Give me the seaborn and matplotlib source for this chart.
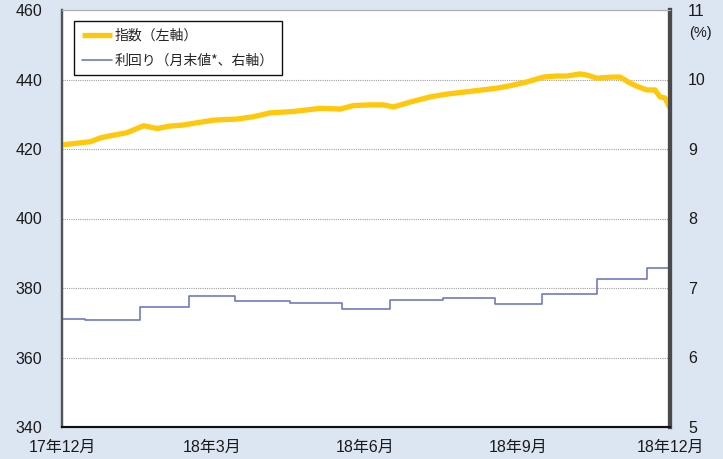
import matplotlib
matplotlib.use("Agg")
import matplotlib.pyplot as plt
import seaborn as sns
import pandas as pd

# ---- data ----
index_dates = ["2017-12-01", "2017-12-18", "2017-12-24", "2017-12-30", "2018-01-09",
               "2018-01-19", "2018-01-27", "2018-02-04", "2018-02-12", "2018-02-18",
               "2018-03-02", "2018-03-10", "2018-03-16", "2018-03-26", "2018-04-05",
               "2018-04-19", "2018-05-05", "2018-05-17", "2018-05-25", "2018-06-04",
               "2018-06-12", "2018-06-18", "2018-06-28", "2018-07-10", "2018-07-20",
               "2018-08-05", "2018-08-19", "2018-08-29", "2018-09-06", "2018-09-16",
               "2018-09-24", "2018-09-30", "2018-10-08", "2018-10-12", "2018-10-18",
               "2018-10-28", "2018-11-01", "2018-11-07", "2018-11-11", "2018-11-17",
               "2018-11-22", "2018-11-25", "2018-11-28", "2018-12-01"]
index_values = [421.2, 422.1, 423.2, 423.8, 424.7,
                426.7, 425.9, 426.6, 426.9, 427.4,
                428.3, 428.5, 428.6, 429.3, 430.4,
                430.8, 431.7, 431.5, 432.5, 432.7,
                432.7, 432.1, 433.5, 435.0, 435.8,
                436.7, 437.5, 438.4, 439.3, 440.7,
                441.0, 441.0, 441.6, 441.3, 440.4,
                440.7, 440.7, 439.0, 438.1, 437.0,
                437.0, 435.0, 434.7, 431.8]

yield_dates = ["2017-12-01", "2017-12-15", "2018-01-17", "2018-02-15", "2018-03-15",
               "2018-04-17", "2018-05-18", "2018-06-16", "2018-07-18", "2018-08-18",
               "2018-09-15", "2018-10-18", "2018-11-17", "2018-12-01"]
yield_values = [6.56, 6.54, 6.72, 6.89, 6.82,
                6.78, 6.70, 6.83, 6.86, 6.77,
                6.92, 7.13, 7.29, 7.29]

x_ticks = ["2017-12-01", "2018-03-01", "2018-06-01", "2018-09-01", "2018-12-01"]
x_tick_labels = ["17年12月", "18年3月", "18年6月", "18年9月", "18年12月"]
left_ticks = [340, 360, 380, 400, 420, 440, 460]
right_ticks = [5, 6, 7, 8, 9, 10, 11]
label_index = "指数（左軸）"
label_yield = "利回り（月末値*、右軸）"
unit_label = "(%)"

# ---- style ----
sns.set_style("white")
plt.rcParams['font.family'] = ['Liberation Sans', 'Noto Sans CJK JP', 'DejaVu Sans']

BG = "#dce6f2"
YELLOW = "#ffc80a"
BLUE = "#7079c6"

fig = plt.figure(figsize=(7.23, 4.59), dpi=100, facecolor=BG)
ax = fig.add_axes([62/723, 1 - 427/459, (670 - 62)/723, (427 - 10)/459])
ax.set_facecolor("white")
ax2 = ax.twinx()

df_i = pd.DataFrame({"date": pd.to_datetime(index_dates), "value": index_values})
df_y = pd.DataFrame({"date": pd.to_datetime(yield_dates), "value": yield_values})

sns.lineplot(data=df_i, x="date", y="value", ax=ax, color=YELLOW, linewidth=3.8,
             label=label_index, legend=False, solid_capstyle="butt", zorder=3)
sns.lineplot(data=df_y, x="date", y="value", ax=ax2, color=BLUE, linewidth=1.2,
             drawstyle="steps-post", label=label_yield, legend=False)

ax.set_xlim(pd.Timestamp(x_ticks[0]), pd.Timestamp(x_ticks[-1]))
ax.set_ylim(left_ticks[0], left_ticks[-1])
ax2.set_ylim(right_ticks[0], right_ticks[-1])

ax.set_xticks(pd.to_datetime(x_ticks))
ax.set_xticklabels(x_tick_labels)
ax.set_yticks(left_ticks)
ax2.set_yticks(right_ticks)

for a in (ax, ax2):
    a.set_xlabel("")
    a.set_ylabel("")

ax.yaxis.grid(True, linestyle=(0, (1, 1)), color="#a0a0a0", linewidth=0.8)
ax.xaxis.grid(False)
ax2.grid(False)

ax.tick_params(axis="x", direction="in", length=4, width=1, color="#333333",
               labelsize=11.5, pad=9, labelcolor="#1a1a1a")
ax.tick_params(axis="y", length=0, labelsize=11.5, pad=14, labelcolor="#1a1a1a")
ax2.tick_params(axis="y", length=0, labelsize=11.5, pad=13, labelcolor="#1a1a1a")

for a in (ax, ax2):
    a.spines["top"].set_color("#b0b0b0")
    a.spines["top"].set_linewidth(0.8)
    a.spines["left"].set_color("#555555")
    a.spines["left"].set_linewidth(1.6)
    a.spines["bottom"].set_color("#111111")
    a.spines["bottom"].set_linewidth(1.5)
    a.spines["right"].set_color("#4a4a4a")
    a.spines["right"].set_linewidth(3.0)

h1, l1 = ax.get_legend_handles_labels()
h2, l2 = ax2.get_legend_handles_labels()
leg = ax2.legend(h1 + h2, l1 + l2, loc="upper left",
                 bbox_to_anchor=((74 - 62)/608, (427 - 21)/417),
                 borderaxespad=0, frameon=True, fancybox=False,
                 edgecolor="#111111", framealpha=1, facecolor="white",
                 handlelength=2.2, handletextpad=0.2,
                 labelspacing=0.8, borderpad=0.55,
                 prop={"family": ['Noto Sans CJK JP', 'DejaVu Sans'], "size": 10})
leg.get_frame().set_linewidth(1.0)

fig.text(700/723, 1 - 33/459, unit_label, ha="center", va="center", fontsize=10.5,
         color="#1a1a1a", family=['Liberation Sans', 'DejaVu Sans'])

fig.savefig("out.png", dpi=100, facecolor=BG)
